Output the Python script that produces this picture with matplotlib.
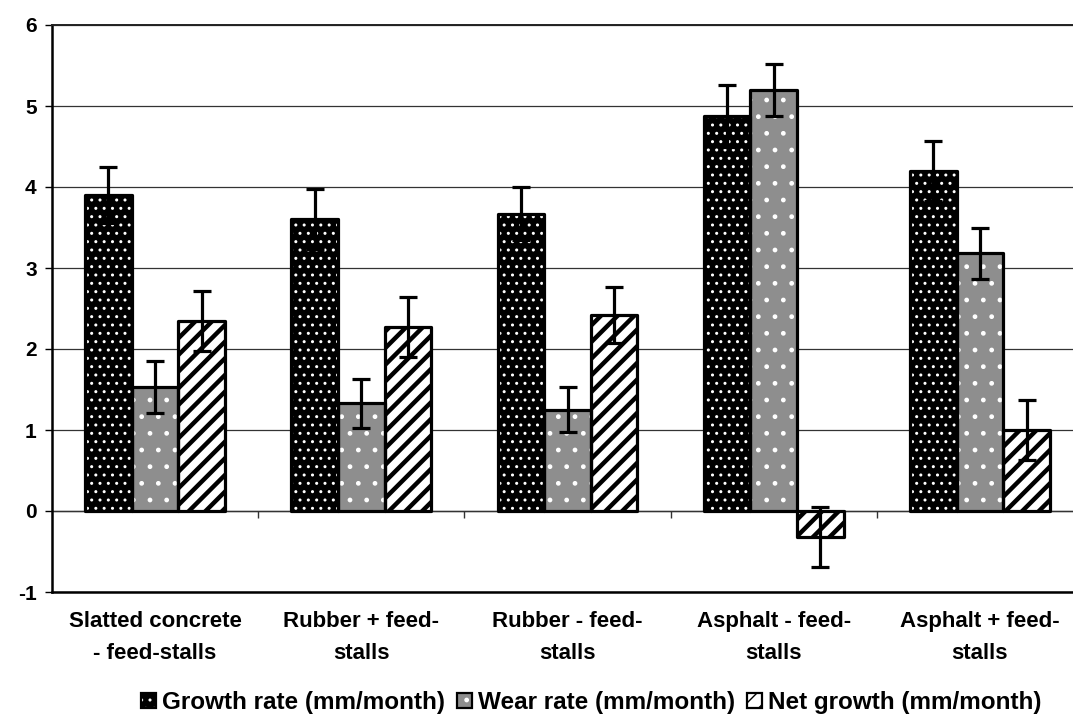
import matplotlib
matplotlib.use('Agg')
import matplotlib as mpl
import matplotlib.pyplot as plt
import numpy as np
from matplotlib.patches import Patch

categories = ["Slatted concrete\n- feed-stalls", "Rubber + feed-\nstalls",
              "Rubber - feed-\nstalls", "Asphalt - feed-\nstalls",
              "Asphalt + feed-\nstalls"]
series_names = ["Growth rate (mm/month)", "Wear rate (mm/month)",
                "Net growth (mm/month)"]
growth = [3.90, 3.60, 3.67, 4.88, 4.20]
growth_err = [0.35, 0.37, 0.33, 0.38, 0.37]
wear = [1.53, 1.33, 1.25, 5.20, 3.18]
wear_err = [0.32, 0.30, 0.28, 0.32, 0.32]
net = [2.35, 2.27, 2.42, -0.32, 1.00]
net_err = [0.37, 0.37, 0.35, 0.37, 0.37]
yticks = [-1, 0, 1, 2, 3, 4, 5, 6]

plt.rcParams['font.family'] = ['Liberation Sans', 'DejaVu Sans']
plt.rcParams['font.weight'] = 'bold'

# (face colour, hatch colour, hatch, hatch linewidth)
styles = [("black", "white", "..", 1.0),
          ("#8e8e8e", "white", ".", 1.0),
          ("white", "black", "//", 3.2)]

fig = plt.figure(figsize=(10.73, 7.18), dpi=100)
W, H = 1073, 718
ax = fig.add_axes([52 / W, (H - 592) / H, (1083 - 52) / W, (592 - 25) / H])

x = np.arange(len(categories))
bw = 0.226
offsets = [-bw, 0, bw]
data = [(growth, growth_err), (wear, wear_err), (net, net_err)]

handles = []
for (vals, errs), off, (fc, hc, hatch, hlw) in zip(data, offsets, styles):
    with mpl.rc_context({'hatch.linewidth': hlw}):
        fill = ax.bar(x + off, vals, bw, facecolor=fc, edgecolor=hc,
                      hatch=hatch, linewidth=0, zorder=2)
        for p in fill:
            if hasattr(p, 'set_hatch_linewidth'):
                p.set_hatch_linewidth(hlw)
        hp = Patch(facecolor=fc, edgecolor=hc, hatch=hatch, linewidth=0)
        if hasattr(hp, 'set_hatch_linewidth'):
            hp.set_hatch_linewidth(hlw)
    ax.bar(x + off, vals, bw, facecolor='none', edgecolor='black',
           linewidth=2.3, joinstyle='round', zorder=3)
    ax.errorbar(x + off, vals, yerr=errs, fmt='none', ecolor='black',
                elinewidth=2.3, capsize=6.5, capthick=2.3, zorder=5)
    op = Patch(facecolor='none', edgecolor='black', linewidth=1.6)
    handles.append((hp, op))

ax.set_ylim(-1, 6)
ax.set_xlim(-0.5, len(categories) - 0.5)
ax.set_yticks(yticks)
ax.set_yticklabels([str(t) for t in yticks], fontsize=15, fontweight='bold')
ax.tick_params(axis='y', direction='out', length=5, width=1.0, pad=6)
ax.yaxis.grid(True, color='#333333', linewidth=0.9)
ax.set_axisbelow(True)

ax.set_xticks(x)
ax.set_xticklabels(categories, fontsize=16, fontweight='bold', linespacing=1.65)
ax.tick_params(axis='x', length=0, pad=14)

ax.spines['right'].set_visible(False)
ax.spines['left'].set_linewidth(1.8)
ax.spines['bottom'].set_linewidth(1.8)
ax.spines['top'].set_linewidth(1.4)
ax.spines['top'].set_color('#222222')

sec = ax.secondary_xaxis(0, transform=ax.transData)
sec.set_xticks(x[:-1] + 0.5)
sec.set_xticklabels([])
sec.tick_params(direction='out', length=5, width=1.0, color='#333333')
sec.spines['bottom'].set_linewidth(1.0)
sec.spines['bottom'].set_color('#333333')

fig.legend(handles, series_names, loc='lower center',
           bbox_to_anchor=(0.551, -0.025), ncol=3, frameon=False,
           prop={'size': 17.5, 'weight': 'bold'}, handlelength=0.6,
           handleheight=0.6, handletextpad=0.25, columnspacing=0.5)

fig.savefig('out.png', dpi=100)
